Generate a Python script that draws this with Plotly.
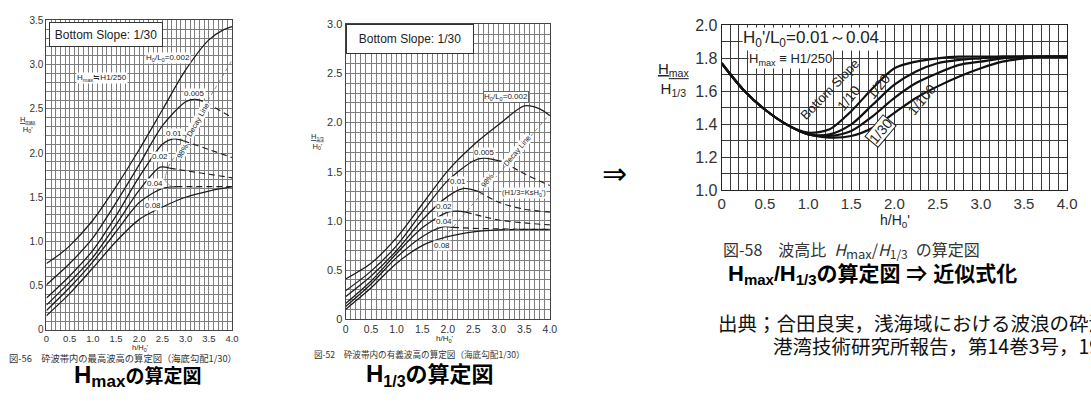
import plotly.graph_objects as go

W, H = 1091, 404

# ---------------- Chart 1 : Hmax / H0'  (bottom slope 1/30) ----------------
A_TICKS_X = [0, 0.5, 1.0, 1.5, 2.0, 2.5, 3.0, 3.5, 4.0]
A_TICKTEXT_X = ["0", "0.5", "1.0", "1.5", "2.0", "2.5", "3.0", "3.5", "4.0"]
A_TICKS_Y = [0, 0.5, 1.0, 1.5, 2.0, 2.5, 3.0, 3.5]
A_TICKTEXT_Y = ["0", "0.5", "1.0", "1.5", "2.0", "2.5", "3.0", "3.5"]

A_LABELS = ["0.002", "0.005", "0.01", "0.02", "0.04", "0.08"]
A002_X = [0, 0.3, 0.5, 1.0, 1.5, 2.0, 2.5, 3.0, 3.5, 3.8, 4.0]
A002_Y = [0.75, 0.86, 0.95, 1.24, 1.62, 2.04, 2.49, 2.94, 3.28, 3.39, 3.43]
A005_X = [0, 0.5, 1.0, 1.5, 2.0, 2.5, 3.0, 3.2, 3.45, 4.0]
A005_Y = [0.51, 0.75, 1.04, 1.44, 1.87, 2.31, 2.58, 2.61, 2.57, 2.40]
A01_X = [0, 0.5, 1.0, 1.5, 2.0, 2.5, 2.75, 2.95, 3.5, 4.0]
A01_Y = [0.36, 0.61, 0.90, 1.29, 1.73, 2.10, 2.16, 2.14, 2.04, 1.95]
A02_X = [0, 0.5, 1.0, 1.5, 2.0, 2.45, 2.65, 3.0, 3.5, 4.0]
A02_Y = [0.28, 0.54, 0.82, 1.19, 1.58, 1.84, 1.83, 1.80, 1.76, 1.72]
A04_X = [0, 0.5, 1.0, 1.5, 2.0, 2.5, 2.8, 3.2, 3.6, 4.0]
A04_Y = [0.22, 0.48, 0.77, 1.11, 1.44, 1.60, 1.62, 1.62, 1.62, 1.62]
A08_X = [0, 0.5, 1.0, 1.5, 2.0, 2.5, 3.0, 3.5, 4.0]
A08_Y = [0.16, 0.41, 0.70, 1.00, 1.25, 1.39, 1.50, 1.57, 1.62]
A_DASH_FROM = [None, 3.45, 2.95, 2.65, 2.8, None]   # h/H0' where the curve turns dashed
A_DECAY_X = [2.62, 4.0]
A_DECAY_Y = [1.84, 3.05]
A_ARC_X = [2.60, 2.56, 2.62, 2.78, 2.98, 3.25]
A_ARC_Y = [1.80, 1.71, 1.65, 1.61, 1.60, 1.61]

# ---------------- Chart 2 : H1/3 / H0'  (bottom slope 1/30) ----------------
B_TICKS_X = [0, 0.5, 1.0, 1.5, 2.0, 2.5, 3.0, 3.5, 4.0]
B_TICKTEXT_X = ["0", "0.5", "1.0", "1.5", "2.0", "2.5", "3.0", "3.5", "4.0"]
B_TICKS_Y = [0, 0.5, 1.0, 1.5, 2.0, 2.5, 3.0]
B_TICKTEXT_Y = ["0", "0.5", "1.0", "1.5", "2.0", "2.5", "3.0"]

B_LABELS = ["0.002", "0.005", "0.01", "0.02", "0.04", "0.08"]
B002_X = [0, 0.5, 1.0, 1.5, 2.0, 2.5, 3.0, 3.5, 3.8, 4.0]
B002_Y = [0.41, 0.57, 0.83, 1.17, 1.51, 1.77, 1.98, 2.17, 2.14, 2.07]
B005_X = [0, 0.5, 1.0, 1.5, 2.0, 2.5, 2.7, 3.1, 3.5, 4.0]
B005_Y = [0.29, 0.49, 0.75, 1.09, 1.41, 1.61, 1.64, 1.60, 1.48, 1.36]
B01_X = [0, 0.5, 1.0, 1.5, 2.0, 2.3, 2.6, 3.0, 3.5, 4.0]
B01_Y = [0.23, 0.44, 0.70, 1.01, 1.25, 1.33, 1.30, 1.19, 1.12, 1.09]
B02_X = [0, 0.5, 1.0, 1.5, 2.0, 2.2, 2.35, 3.0, 3.5, 4.0]
B02_Y = [0.16, 0.39, 0.67, 0.93, 1.09, 1.10, 1.09, 1.01, 0.98, 0.96]
B04_X = [0, 0.5, 1.0, 1.5, 1.9, 2.1, 2.5, 3.0, 3.5, 4.0]
B04_Y = [0.13, 0.36, 0.63, 0.84, 0.94, 0.935, 0.925, 0.92, 0.915, 0.915]
B08_X = [0, 0.5, 1.0, 1.5, 2.0, 2.5, 3.0, 3.5, 4.0]
B08_Y = [0.10, 0.32, 0.57, 0.75, 0.84, 0.89, 0.91, 0.915, 0.915]
B_DASH_FROM = [None, 3.1, 2.6, 2.35, 2.1, 3.0]
B_DECAY_X = [1.93, 4.0]
B_DECAY_Y = [0.83, 2.09]

# ---------------- Chart 3 : Hmax / H1/3 ----------------
C_TICKS_X = [0, 0.5, 1.0, 1.5, 2.0, 2.5, 3.0, 3.5, 4.0]
C_TICKTEXT_X = ["0", "0.5", "1.0", "1.5", "2.0", "2.5", "3.0", "3.5", "4.0"]
C_TICKS_Y = [1.0, 1.2, 1.4, 1.6, 1.8, 2.0]
C_TICKTEXT_Y = ["1.0", "1.2", "1.4", "1.6", "1.8", "2.0"]
C_X = [0, 0.25, 0.5, 0.75, 1.0, 1.25, 1.5, 1.75, 2.0, 2.25, 2.5, 2.75, 3.0, 3.25, 3.5, 3.75, 4.0]
C_S10 = [1.77, 1.61, 1.49, 1.40, 1.35, 1.37, 1.48, 1.62, 1.74, 1.78, 1.80, 1.81, 1.81, 1.81, 1.81, 1.81, 1.81]
C_S20 = [1.77, 1.61, 1.49, 1.40, 1.34, 1.34, 1.40, 1.52, 1.64, 1.72, 1.77, 1.79, 1.80, 1.81, 1.81, 1.81, 1.81]
C_S30 = [1.77, 1.61, 1.49, 1.40, 1.34, 1.33, 1.36, 1.45, 1.56, 1.65, 1.71, 1.76, 1.78, 1.80, 1.81, 1.81, 1.81]
C_S100 = [1.77, 1.61, 1.49, 1.40, 1.34, 1.32, 1.33, 1.38, 1.47, 1.56, 1.63, 1.69, 1.74, 1.78, 1.80, 1.81, 1.81]

LAT = "Liberation Sans, Arial, sans-serif"
JP = "Liberation Sans, Noto Sans CJK JP, sans-serif"
CJK = "Noto Sans CJK JP, sans-serif"
INK = "#1e1e1e"


def px(x):
    return x / W


def py(y):
    return 1 - y / H


fig = go.Figure()


def add_curve(xs, ys, dash_from, xa, ya, width, color):
    if dash_from is None:
        solid_x, solid_y, dash_x, dash_y = xs, ys, [], []
    else:
        k = xs.index(dash_from)
        solid_x, solid_y = xs[:k + 1], ys[:k + 1]
        dash_x, dash_y = xs[k:], ys[k:]
    fig.add_trace(go.Scatter(x=solid_x, y=solid_y, mode="lines", xaxis=xa, yaxis=ya,
                             line=dict(color=color, width=width, shape="spline", smoothing=0.8),
                             showlegend=False, hoverinfo="skip"))
    if dash_x:
        fig.add_trace(go.Scatter(x=dash_x, y=dash_y, mode="lines", xaxis=xa, yaxis=ya,
                                 line=dict(color=color, width=width * 0.9, shape="spline",
                                           smoothing=0.8, dash="6px,4px"),
                                 showlegend=False, hoverinfo="skip"))


# Chart 1 curves
for xs, ys, d in zip([A002_X, A005_X, A01_X, A02_X, A04_X, A08_X],
                     [A002_Y, A005_Y, A01_Y, A02_Y, A04_Y, A08_Y], A_DASH_FROM):
    add_curve(xs, ys, d, "x", "y", 1.3, INK)
fig.add_trace(go.Scatter(x=A_DECAY_X, y=A_DECAY_Y, mode="lines", xaxis="x", yaxis="y",
                         line=dict(color="#777", width=0.8, dash="4px,3px"),
                         showlegend=False, hoverinfo="skip"))
fig.add_trace(go.Scatter(x=A_ARC_X, y=A_ARC_Y, mode="lines", xaxis="x", yaxis="y",
                         line=dict(color="#888", width=0.8, shape="spline"),
                         showlegend=False, hoverinfo="skip"))

# Chart 2 curves
for xs, ys, d in zip([B002_X, B005_X, B01_X, B02_X, B04_X, B08_X],
                     [B002_Y, B005_Y, B01_Y, B02_Y, B04_Y, B08_Y], B_DASH_FROM):
    add_curve(xs, ys, d, "x2", "y2", 1.3, INK)
fig.add_trace(go.Scatter(x=B_DECAY_X, y=B_DECAY_Y, mode="lines", xaxis="x2", yaxis="y2",
                         line=dict(color="#777", width=0.8, dash="4px,3px"),
                         showlegend=False, hoverinfo="skip"))

# Chart 3 curves
for ys in [C_S10, C_S20, C_S30, C_S100]:
    fig.add_trace(go.Scatter(x=C_X, y=ys, mode="lines", xaxis="x3", yaxis="y3",
                             line=dict(color="#111", width=2.2, shape="spline", smoothing=0.8),
                             showlegend=False, hoverinfo="skip"))


def axis(domain, rng, tickvals, ticktext, minor_dt, anchor, fsize, gridc, gridw, linec):
    return dict(domain=domain, range=rng, anchor=anchor, tickmode="array",
                tickvals=tickvals, ticktext=ticktext, showgrid=True, gridcolor=gridc,
                gridwidth=gridw, zeroline=False, showline=True, mirror=True,
                linecolor=linec, linewidth=1, ticks="",
                tickfont=dict(family=LAT, size=fsize, color="#333"),
                minor=dict(tickmode="linear", tick0=0, dtick=minor_dt, showgrid=True,
                           gridcolor=gridc, gridwidth=gridw, ticks=""))


GA = "#7e7e7e"
fig.update_layout(
    width=W, height=H, autosize=False,
    margin=dict(l=0, r=0, t=0, b=0),
    paper_bgcolor="white", plot_bgcolor="white",
    xaxis=axis([px(43), px(231)], [0, 4], A_TICKS_X, A_TICKTEXT_X, 0.1, "y", 9.5, GA, 0.75, "#444"),
    yaxis=axis([py(336), py(13)], [0, 3.5], A_TICKS_Y, A_TICKTEXT_Y, 0.1, "x", 10, GA, 0.75, "#444"),
    xaxis2=axis([px(346), px(553)], [0, 4], B_TICKS_X, B_TICKTEXT_X, 0.1, "y2", 10.5, GA, 0.75, "#444"),
    yaxis2=axis([py(325), py(17)], [0, 3.0], B_TICKS_Y, B_TICKTEXT_Y, 0.1, "x2", 11, GA, 0.75, "#444"),
    xaxis3=axis([px(727), px(1077)], [0, 4], C_TICKS_X, C_TICKTEXT_X, 0.1, "y3", 15, "#3a3a3a", 1.1, "#222"),
    yaxis3=axis([py(190.5), py(18)], [1.0, 2.0], C_TICKS_Y, C_TICKTEXT_Y, 0.1, "x3", 16, "#3a3a3a", 1.1, "#222"),
)

ann = []


def txt(text, x, y, xref, yref, size, family=LAT, angle=0, bg=None, border=None,
        w=None, h=None, xanchor="center", color="#222", pad=0):
    d = dict(text=text, x=x, y=y, xref=xref, yref=yref, showarrow=False,
             font=dict(family=family, size=size, color=color), textangle=angle,
             xanchor=xanchor, yanchor="middle", borderpad=pad)
    if bg:
        d["bgcolor"] = bg
    if border:
        d["bordercolor"] = border
        d["borderwidth"] = 1
    if w:
        d["width"] = w
    if h:
        d["height"] = h
    ann.append(d)


def big_h(sub, hsize, subsize):
    return ("<span style='font-size:%dpx'>H</span><sub><span style='font-size:%dpx'>%s</span></sub>"
            % (hsize, subsize, sub))


# ---- chart 1 texts ----
txt("Bottom Slope: 1/30", 1.28, 3.345, "x", "y", 12, bg="white", border="#333", w=112, h=23)
txt("H<sub>0</sub>/L<sub>0</sub>=0.002", 2.62, 3.07, "x", "y", 8, bg="white")
txt("H<sub>max</sub>≒H1/250", 1.19, 2.85, "x", "y", 8, bg="white")
for lab, lx, ly in zip(A_LABELS[1:], [3.2, 2.74, 2.45, 2.33, 2.29], [2.67, 2.22, 1.96, 1.65, 1.41]):
    txt(lab, lx, ly, "x", "y", 8, bg="white")
txt("98%", 2.93, 2.02, "x", "y", 7.5, angle=-60, bg="white")
txt("Decay Line", 3.27, 2.38, "x", "y", 7.5, angle=-60, bg="white")
txt("<u>H<sub>max</sub></u><br>H<sub>0</sub>'", px(24), py(122), "paper", "paper", 7.5)
txt("h/H<sub>0</sub>'", px(138), py(355), "paper", "paper", 7.5)
txt("図-56　砕波帯内の最高波高の算定図（海底勾配1/30）", px(4), py(365.5), "paper", "paper", 9.3,
    family=CJK, xanchor="left", color="#333")
txt("<b>" + big_h("max", 24, 17) + "の算定図</b>", px(135), py(384), "paper", "paper", 19,
    family=JP, color="#000")

# ---- chart 2 texts ----
txt("Bottom Slope: 1/30", 1.26, 2.85, "x2", "y2", 12, bg="white", border="#333", w=126, h=28)
txt("H<sub>0</sub>/L<sub>0</sub>=0.002", 3.15, 2.26, "x2", "y2", 8, bg="white", border="#666")
for lab, lx, ly in zip(B_LABELS[1:], [2.71, 2.21, 1.92, 1.93, 1.89], [1.70, 1.40, 1.15, 0.99, 0.75]):
    txt(lab, lx, ly, "x2", "y2", 8, bg="white")
txt("98%", 2.78, 1.41, "x2", "y2", 7.5, angle=-50, bg="white")
txt("Decay Line", 3.36, 1.72, "x2", "y2", 7.5, angle=-50, bg="white")
txt("(H1/3=KsH<sub>0</sub>')", 3.5, 1.28, "x2", "y2", 7.5, bg="white")
txt("<u>H<sub>1/3</sub></u><br>H<sub>0</sub>'", px(318), py(139), "paper", "paper", 7.5)
txt("h/H<sub>0</sub>'", px(447), py(346), "paper", "paper", 8)
txt("図-52　砕波帯内の有義波高の算定図（海底勾配1/30）", px(313), py(361.5), "paper", "paper", 8.6,
    family=CJK, xanchor="left", color="#333")
txt("<b>" + big_h("1/3", 24, 16) + "の算定図</b>", px(432), py(383), "paper", "paper", 22,
    family=JP, color="#000")

# ---- arrow between ----
txt("⇒", px(618), py(173), "paper", "paper", 30, family="DejaVu Sans", color="#000")

# ---- chart 3 texts ----
txt("H<sub>0</sub>'/L<sub>0</sub>=0.01～0.04", 1.03, 1.915, "x3", "y3", 17, bg="white")
txt("H<sub>max</sub> ≡ H1/250", 0.8, 1.795, "x3", "y3", 13, bg="white")
txt("Bottom Slope", 1.25, 1.61, "x3", "y3", 13, angle=-46)
txt("1/10", 1.47, 1.56, "x3", "y3", 14, angle=-50)
txt("1/20", 1.82, 1.63, "x3", "y3", 14, angle=-50)
txt("1/30", 1.84, 1.36, "x3", "y3", 14, angle=-50, bg="white", border="#222")
txt("1/100", 2.31, 1.55, "x3", "y3", 14, angle=-50)
txt("<u>H<sub>max</sub></u><br>H<sub>1/3</sub>", px(678), py(75), "paper", "paper", 15)
txt("h/H<sub>0</sub>'", px(903), py(222), "paper", "paper", 14)
txt("図-58　波高比\u2002<i>H</i><sub><span style='font-size:13px'>max</span></sub>/<i>H</i>"
    "<sub><span style='font-size:12px'>1/3</span></sub>\u2002の算定図",
    px(727), py(253), "paper", "paper", 16, family=CJK, xanchor="left", color="#333")
txt("<b>" + big_h("max", 22, 15) + "/" + big_h("1/3", 22, 15) + "の算定図 ⇒ 近似式化</b>",
    px(732), py(278), "paper", "paper", 21, family=JP, xanchor="left", color="#000")
txt("出典；合田良実，浅海域における波浪の砕波変形，", px(722), py(328), "paper", "paper", 19.5,
    family=CJK, xanchor="left", color="#111")
txt("港湾技術研究所報告，第14巻3号，1975.", px(778), py(352), "paper", "paper", 19.5,
    family=CJK, xanchor="left", color="#111")

fig.update_layout(annotations=ann)
fig.write_html("out.html")
